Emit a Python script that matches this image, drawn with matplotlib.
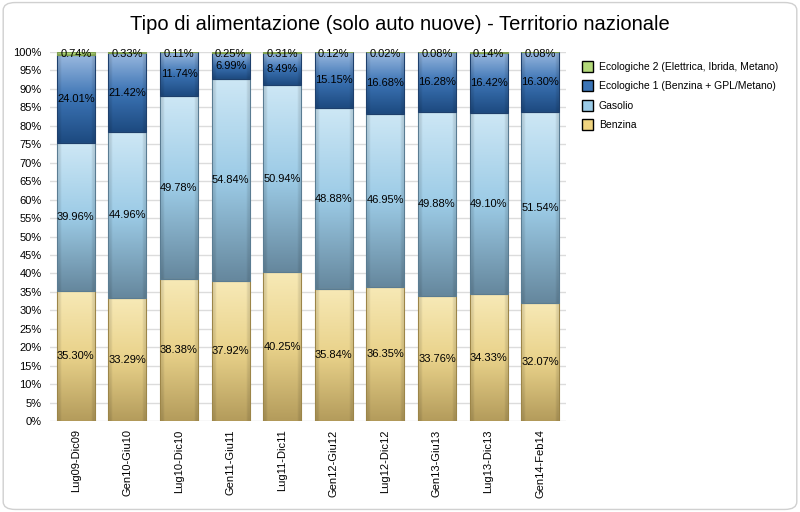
import numpy as np
import matplotlib
matplotlib.use("Agg")
import matplotlib.pyplot as plt
from matplotlib.colors import to_rgb
from matplotlib.patches import FancyBboxPatch, Patch

plt.rcParams["font.family"] = ["Liberation Sans", "DejaVu Sans"]

periods = ["Lug09-Dic09", "Gen10-Giu10", "Lug10-Dic10", "Gen11-Giu11", "Lug11-Dic11",
           "Gen12-Giu12", "Lug12-Dic12", "Gen13-Giu13", "Lug13-Dic13", "Gen14-Feb14"]
benzina = [35.30, 33.29, 38.38, 37.92, 40.25, 35.84, 36.35, 33.76, 34.33, 32.07]
gasolio = [39.96, 44.96, 49.78, 54.84, 50.94, 48.88, 46.95, 49.88, 49.10, 51.54]
eco1 = [24.01, 21.42, 11.74, 6.99, 8.49, 15.15, 16.68, 16.28, 16.42, 16.30]
eco2 = [0.74, 0.33, 0.11, 0.25, 0.31, 0.12, 0.02, 0.08, 0.14, 0.08]

series = [
    ("Benzina", benzina, ["#f7e9b6", "#e9d28a", "#b49c5c"], "#f0d480", "#9c8548"),
    ("Gasolio", gasolio, ["#cde7f5", "#9ccbe6", "#66889e"], "#9bcbe7", "#5a7c92"),
    ("Ecologiche 1 (Benzina + GPL/Metano)", eco1, ["#9ab9df", "#3b73b4", "#1d4a80"], "#3b74b6", "#1d3f6c"),
    ("Ecologiche 2 (Elettrica, Ibrida, Metano)", eco2, ["#c8e49a", "#b2d778", "#8fb85a"], "#b3d97a", "#7fa050"),
]

fig = plt.figure(figsize=(8, 5.12), dpi=100)
fig.patches.append(FancyBboxPatch((0.004, 0.005), 0.992, 0.99, boxstyle="round,pad=0,rounding_size=0.015",
                                  transform=fig.transFigure, facecolor="none", edgecolor="#d0d0d0", lw=1))
ax = fig.add_axes([0.0625, 0.1777, 0.645, 0.7207])
ax.set_facecolor("none")

x = np.arange(len(periods))
width = 0.74
bottom = np.zeros(len(periods))


def gradient_img(stops, n=64):
    cols = np.array([to_rgb(c) for c in stops])
    t = np.linspace(0, 1, n)
    pos = np.linspace(0, 1, len(stops))
    img = np.stack([np.interp(t, pos, cols[:, k]) for k in range(3)], axis=-1)
    img = np.repeat(img[:, None, :], 20, axis=1)
    # bevel shading at the bar edges
    shade = np.ones(20)
    shade[:2] = 0.9
    shade[-2:] = 0.9
    return img * shade[None, :, None]


for name, vals, stops, face, edge in series:
    vals = np.array(vals)
    bars = ax.bar(x, vals, width, bottom=bottom, color=face, edgecolor=edge, lw=0.8, zorder=3)
    img = gradient_img(stops)
    for b in bars:
        bx, by = b.get_x(), b.get_y()
        im = ax.imshow(img, extent=[bx, bx + b.get_width(), by, by + b.get_height()],
                       aspect="auto", origin="upper", zorder=3.5, interpolation="bilinear")
        im.set_clip_path(b)
        b.set_facecolor("none")
        b.set_zorder(4)
    for xi, v, bt in zip(x, vals, bottom):
        yc = bt + v / 2
        if v < 2:
            yc = 99.5
        ax.text(xi, yc, f"{v:.2f}%", ha="center", va="center", fontsize=8, zorder=5)
    bottom += vals

ax.set_xlim(-0.5, len(periods) - 0.5)
ax.set_ylim(0, 100)
ax.set_yticks(np.arange(0, 101, 5))
ax.set_yticklabels([f"{v}%" for v in range(0, 101, 5)], fontsize=8)
ax.set_xticks(x)
ax.set_xticklabels(periods, rotation=90, fontsize=8)
ax.tick_params(length=0, pad=6)
ax.grid(axis="y", color="#dcdcdc", lw=1, zorder=0)
ax.set_axisbelow(True)
for s in ax.spines.values():
    s.set_visible(False)

fig.text(0.5, 0.953, "Tipo di alimentazione (solo auto nuove) - Territorio nazionale",
         ha="center", va="center", fontsize=14.5)

handles = [Patch(facecolor=face, edgecolor="black", label=name) for name, _, _, face, _ in series[::-1]]
fig.legend(handles=handles, loc="upper left", bbox_to_anchor=(0.716, 0.9), frameon=False,
           fontsize=7.5, handlelength=1.0, handleheight=1.25, handletextpad=0.6, labelspacing=0.82)

fig.savefig("out.png", dpi=100)
